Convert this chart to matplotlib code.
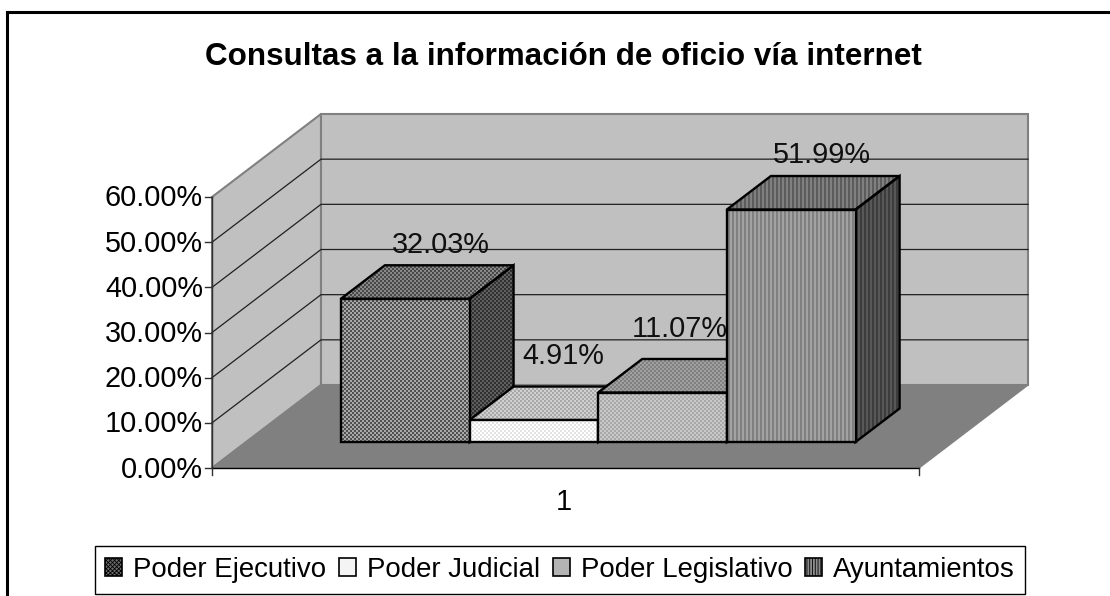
import numpy as np
import matplotlib
matplotlib.use("Agg")
import matplotlib.pyplot as plt
from matplotlib.patches import Polygon, Patch
from matplotlib.lines import Line2D

plt.rcParams['font.family'] = ['Liberation Sans', 'DejaVu Sans']
plt.rcParams['hatch.linewidth'] = 0.6

title = "Consultas a la información de oficio vía internet"
series = ["Poder Ejecutivo", "Poder Judicial", "Poder Legislativo", "Ayuntamientos"]
values = [32.03, 4.91, 11.07, 51.99]
value_labels = ["32.03%", "4.91%", "11.07%", "51.99%"]
y_ticks = [0, 10, 20, 30, 40, 50, 60]
y_tick_labels = ["0.00%", "10.00%", "20.00%", "30.00%", "40.00%", "50.00%", "60.00%"]
category = "1"

W, H = 1110, 596
L, R, B, T = 212, 919, 468, 197       # front plane of the plot box, pixels
fig = plt.figure(figsize=(W / 100, H / 100), dpi=100, facecolor="white")
ax = fig.add_axes([L / W, 1 - B / H, (R - L) / W, (B - T) / H])
ax.set_xlim(0, 1)
ax.set_ylim(0, 60)
ax.axis("off")

px_x = 1 / (R - L)
px_y = 60 / (B - T)
DX, DY = 109 * px_x, 83 * px_y        # box depth in data units
BAR_SCALE = 0.99                      # bars stand further back in the perspective


def proj(x, d, v):
    return (x + d * DX, v + d * DY)


full_extent = [-L * px_x, (W - L) * px_x, -(H - B) * px_y, B * px_y]


def checker(c1, c2):
    yy, xx = np.mgrid[0:H, 0:W]
    m = (((xx // 2) + (yy // 2)) % 2).astype(float)
    return c1 + (c2 - c1) * m


def stripes(c1, c2):
    yy, xx = np.mgrid[0:H, 0:W]
    m = ((xx // 2) % 2).astype(float)
    return c1 + (c2 - c1) * m


def face(points, tex, z):
    poly = Polygon(points, closed=True, facecolor="none", edgecolor="black",
                   linewidth=1.7, joinstyle="miter", clip_on=False, zorder=z + 0.1)
    ax.add_patch(poly)
    clip = Polygon(points, closed=True, transform=ax.transData)
    im = ax.imshow(tex, extent=full_extent, origin="upper", cmap="gray", vmin=0, vmax=255,
                   interpolation="nearest", aspect="auto", zorder=z)
    im.set_clip_path(clip)
    im.set_clip_box(fig.bbox)


# walls and floor
wall = "#c0c0c0"
floor = "#808080"
edge = "#808080"
ax.add_patch(Polygon([proj(0, 0, 0), proj(0, 1, 0), proj(0, 1, 60), proj(0, 0, 60)],
                     facecolor=wall, edgecolor=edge, lw=1.5, clip_on=False, zorder=1))
ax.add_patch(Polygon([proj(0, 1, 0), proj(1, 1, 0), proj(1, 1, 60), proj(0, 1, 60)],
                     facecolor=wall, edgecolor=edge, lw=1.5, clip_on=False, zorder=1))
ax.add_patch(Polygon([proj(0, 0, 0), proj(1, 0, 0), proj(1, 1, 0), proj(0, 1, 0)],
                     facecolor=floor, edgecolor=edge, lw=1.0, clip_on=False, zorder=1))
for t in y_ticks[1:-1]:
    pts = [proj(0, 0, t), proj(0, 1, t), proj(1, 1, t)]
    ax.plot(*zip(*pts), color="#202020", lw=0.9, clip_on=False, zorder=2, solid_joinstyle="miter")

# axes lines, ticks and their labels
TEXT_DROP = 1.5 * px_y
ax.plot([0, 0], [0, 60], color="#303030", lw=1.0, clip_on=False, zorder=6)
ax.plot([0, 1], [0, 0], color="black", lw=1.0, clip_on=False, zorder=6)
for t, lab in zip(y_ticks, y_tick_labels):
    ax.plot([-7 * px_x, 0], [t, t], color="#303030", lw=1.0, clip_on=False, zorder=6)
    ax.text(-9 * px_x, t - TEXT_DROP, lab, ha="right", va="center", fontsize=20.8, color="black", zorder=9)
for x in (0, 1):
    ax.plot([x, x], [0, -7 * px_y], color="#303030", lw=1.0, clip_on=False, zorder=6)
ax.text(0.5 - 2 * px_x, -34 * px_y, category, ha="center", va="center", fontsize=20.8, color="black")

# bars
d0, d1 = 0.313, 0.717                 # depth extent of the bars within the box
x0 = 0.134
bw = 0.182
textures = [
    (checker(0x50, 0xa8), checker(0x48, 0x88), checker(0x30, 0x60)),
    (checker(0xff, 0xe4), checker(0xa8, 0xd0), checker(0x90, 0xa8)),
    (checker(0xa8, 0xc8), checker(0x80, 0xa0), checker(0x50, 0x70)),
    (stripes(0x80, 0xa4), stripes(0x5c, 0x80), stripes(0x3c, 0x58)),
]
for i, v in enumerate(values):
    h = v * BAR_SCALE
    xa, xb = x0 + i * bw, x0 + (i + 1) * bw
    z = 10 + i
    ft, tp, sd = textures[i]
    face([proj(xb, d0, 0), proj(xb, d1, 0), proj(xb, d1, h), proj(xb, d0, h)], sd, z)
    face([proj(xa, d0, h), proj(xb, d0, h), proj(xb, d1, h), proj(xa, d1, h)], tp, z)
    face([proj(xa, d0, 0), proj(xb, d0, 0), proj(xb, d0, h), proj(xa, d0, h)], ft, z + 0.2)

# value labels
label_dx = [36, 29, 17, 31]           # shift from the bar centre, pixels
label_dy = [22, 32, 31, 23]           # rise above the rear top edge, pixels
for i, (v, lab) in enumerate(zip(values, value_labels)):
    xc = x0 + (i + 0.5) * bw + label_dx[i] * px_x + d0 * DX
    yc = v * BAR_SCALE + d1 * DY + label_dy[i] * px_y - TEXT_DROP
    ax.text(xc, yc, lab, ha="center", va="center", fontsize=20.8, color="#101010",
            zorder=20 + (0 if i != 2 else -8))

# title and outer frame
fig.text(563 / W, 1 - 57 / H, title, ha="center", va="center", fontsize=22.6, fontweight="bold", color="black")
fig.add_artist(Line2D([7 / W, 7 / W, 1], [0, 1 - 11.5 / H, 1 - 11.5 / H], color="black", lw=2.2,
                      solid_joinstyle="miter", transform=fig.transFigure))

# legend
handles = [
    Patch(facecolor="#6e6e6e", edgecolor="black", hatch="xxxxxxxx", lw=1.2),
    Patch(facecolor="#f4f4f4", edgecolor="black", lw=1.2),
    Patch(facecolor="#b4b4b4", edgecolor="black", lw=1.2),
    Patch(facecolor="#8c8c8c", edgecolor="black", hatch="||||||", lw=1.2),
]
leg = fig.legend(handles, series, ncol=4, loc="center",
                 bbox_to_anchor=(560 / W, 1 - 570 / H), fontsize=19.9,
                 frameon=True, fancybox=False, edgecolor="black", framealpha=1,
                 handlelength=0.61, handleheight=0.61, handletextpad=0.39,
                 columnspacing=0.47, borderpad=0.38, borderaxespad=0)
leg.get_frame().set_linewidth(1.0)

fig.savefig("out.png", dpi=100, facecolor="white")
